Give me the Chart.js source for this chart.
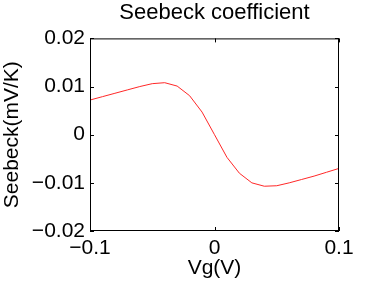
<!DOCTYPE html>
<html>
<head>
<meta charset="utf-8">
<script src="https://cdn.jsdelivr.net/npm/chart.js@4"></script>
<style>
  html, body { margin: 0; padding: 0; background: #fff; }
  #wrap { width: 374px; height: 281px; }
</style>
</head>
<body>
<div id="wrap"><canvas id="seebeckChart" width="374" height="281"></canvas></div>
<script>
const vg = [-0.1, -0.09, -0.08, -0.07, -0.06, -0.05, -0.04, -0.03, -0.02, -0.01, 0,
            0.01, 0.02, 0.03, 0.04, 0.05, 0.06, 0.07, 0.08, 0.09, 0.1];
const seebeck = [0.0072, 0.0079, 0.0086, 0.0093, 0.0100, 0.0106, 0.0108, 0.0101, 0.0081, 0.0047, 0.0000,
                 -0.0047, -0.0080, -0.0100, -0.0107, -0.0106, -0.0100, -0.0093, -0.0086, -0.0078, -0.0070];
const xTicks = [-0.1, 0, 0.1];
const yTicks = [-0.02, -0.01, 0, 0.01, 0.02];

const FONT = "'Liberation Sans', Arial, Helvetica, sans-serif";

const fmt = (v, d) => {
    if (Math.abs(v) < 1e-9) return '0';
    return (v < 0 ? '\u2212' : '') + Math.abs(v).toFixed(d);
};

// frame round the plot and small inward tick marks on all four sides
const framePlugin = {
    id: 'frame',
    afterDatasetsDraw(chart) {
        const { ctx, chartArea: a, scales } = chart;
        const len = 4;
        ctx.save();
        ctx.strokeStyle = '#000';
        ctx.lineWidth = 1;
        ctx.strokeRect(a.left + 0.5, a.top + 0.5, a.right - a.left - 1, a.bottom - a.top - 1);
        ctx.beginPath();
        xTicks.forEach(t => {
            const px = Math.round(scales.x.getPixelForValue(t)) + 0.5;
            ctx.moveTo(px, a.bottom); ctx.lineTo(px, a.bottom - len);
            ctx.moveTo(px, a.top); ctx.lineTo(px, a.top + len);
        });
        yTicks.forEach(t => {
            const py = Math.round(scales.y.getPixelForValue(t)) + 0.5;
            ctx.moveTo(a.left, py); ctx.lineTo(a.left + len, py);
            ctx.moveTo(a.right, py); ctx.lineTo(a.right - len, py);
        });
        ctx.stroke();
        ctx.restore();
    }
};

new Chart(document.getElementById('seebeckChart'), {
    type: 'line',
    data: {
        labels: vg,
        datasets: [{
            data: vg.map((x, i) => ({ x, y: seebeck[i] })),
            borderColor: 'rgb(255, 40, 40)',
            borderWidth: 1,
            pointRadius: 0,
            tension: 0,
            fill: false
        }]
    },
    options: {
        responsive: false,
        animation: false,
        layout: { padding: { left: 0, right: 35, top: 0, bottom: 0 } },
        plugins: {
            legend: { display: false },
            tooltip: { enabled: false },
            title: {
                display: true,
                text: 'Seebeck coefficient',
                fullSize: false,
                color: '#000',
                font: { family: FONT, size: 22, weight: 'normal' },
                padding: { top: 0, bottom: 12 }
            }
        },
        scales: {
            x: {
                type: 'linear',
                min: -0.1,
                max: 0.1,
                afterBuildTicks: s => { s.ticks = xTicks.map(v => ({ value: v })); },
                ticks: {
                    color: '#000',
                    font: { family: FONT, size: 21 },
                    padding: 5,
                    maxRotation: 0,
                    autoSkip: false,
                    callback: v => fmt(v, 1)
                },
                grid: { drawOnChartArea: false, drawTicks: false },
                border: { display: false },
                title: {
                    display: true,
                    text: 'Vg(V)',
                    color: '#000',
                    font: { family: FONT, size: 21 },
                    padding: 0
                },
                afterFit: s => { s.height = 50; }
            },
            y: {
                min: -0.02,
                max: 0.02,
                afterBuildTicks: s => { s.ticks = yTicks.map(v => ({ value: v })); },
                ticks: {
                    color: '#000',
                    font: { family: FONT, size: 21 },
                    padding: 5,
                    autoSkip: false,
                    callback: v => fmt(v, 2)
                },
                grid: { drawOnChartArea: false, drawTicks: false },
                border: { display: false },
                title: {
                    display: true,
                    text: 'Seebeck(mV/K)',
                    color: '#000',
                    font: { family: FONT, size: 21 },
                    padding: 0
                },
                afterFit: s => { s.width = 90; }
            }
        }
    },
    plugins: [framePlugin]
});
</script>
</body>
</html>
